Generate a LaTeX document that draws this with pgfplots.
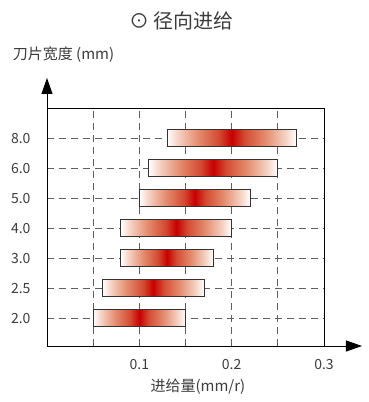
\documentclass[border=0pt]{standalone}
\usepackage{pgfplots}
\pgfplotsset{compat=1.18}
\usepackage{fontspec}
\setmainfont{Noto Sans CJK SC}
\usetikzlibrary{arrows.meta}
\definecolor{txt}{RGB}{60,60,60}
\definecolor{gridc}{RGB}{95,95,95}
\definecolor{barred}{RGB}{200,0,0}
\definecolor{sal1}{RGB}{246,212,198}
\definecolor{sal2}{RGB}{228,140,110}
\definecolor{sal3}{RGB}{212,75,50}
\pgfdeclarehorizontalshading{barshade}{100bp}{
  color(0bp)=(white); color(25bp)=(white);
  color(29bp)=(sal1); color(37bp)=(sal2); color(45bp)=(sal3);
  color(50bp)=(barred);
  color(55bp)=(sal3); color(63bp)=(sal2); color(71bp)=(sal1);
  color(75bp)=(white); color(100bp)=(white)}
\pgfplotsset{feedbar/.style={draw=black!80, line width=0.8pt, shading=barshade}}
\begin{document}
\begin{tikzpicture}
\begin{axis}[
  scale only axis,
  width=277pt, height=238pt,
  at={(0,0)},
  xmin=0, xmax=0.3,
  ymin=-0.93, ymax=7,
  xtick={0.05,0.1,0.15,0.2,0.25,0.3},
  xticklabels={,0.1,,0.2,,0.3},
  ytick={0,1,2,3,4,5,6},
  yticklabels={2.0,2.5,3.0,4.0,5.0,6.0,8.0},
  major tick length=0pt,
  grid=major,
  major grid style={gridc, line width=0.8pt, dash pattern=on 7pt off 5pt},
  axis line style={black, line width=0.9pt},
  tick label style={font=\fontsize{14}{16}\selectfont, text=txt},
  /pgf/number format/assume math mode=true,
  xticklabel style={yshift=-10pt},
  yticklabel style={xshift=-13pt},
  clip=false,
]
% bar for 2.0 mm : 0.05 - 0.15
\addplot[feedbar] coordinates {(0.05,-0.28) (0.15,-0.28) (0.15,0.28) (0.05,0.28)} -- cycle;
% 2.5 mm : 0.06 - 0.17
\addplot[feedbar] coordinates {(0.06,0.72) (0.17,0.72) (0.17,1.28) (0.06,1.28)} -- cycle;
% 3.0 mm : 0.08 - 0.18
\addplot[feedbar] coordinates {(0.08,1.72) (0.18,1.72) (0.18,2.28) (0.08,2.28)} -- cycle;
% 4.0 mm : 0.08 - 0.20
\addplot[feedbar] coordinates {(0.08,2.72) (0.20,2.72) (0.20,3.28) (0.08,3.28)} -- cycle;
% 5.0 mm : 0.10 - 0.22
\addplot[feedbar] coordinates {(0.10,3.72) (0.22,3.72) (0.22,4.28) (0.10,4.28)} -- cycle;
% 6.0 mm : 0.11 - 0.25
\addplot[feedbar] coordinates {(0.11,4.72) (0.25,4.72) (0.25,5.28) (0.11,5.28)} -- cycle;
% 8.0 mm : 0.13 - 0.27
\addplot[feedbar] coordinates {(0.13,5.72) (0.27,5.72) (0.27,6.28) (0.13,6.28)} -- cycle;
\draw[line width=0.9pt, -{Triangle[length=16pt,width=11pt]}] (rel axis cs:0,1) -- ++(0pt,30pt);
\draw[line width=0.9pt, -{Triangle[length=16pt,width=11pt]}] (rel axis cs:1,0) -- ++(38pt,0pt);
\node[text=txt, font=\fontsize{20}{23}\selectfont] at ([xshift=-4pt,yshift=87pt]rel axis cs:0.5,1) {⊙ 径向进给};
\node[text=txt, font=\fontsize{15}{18}\selectfont] at ([xshift=16.5pt,yshift=53pt]rel axis cs:0,1) {刀片宽度 (mm)};
\node[text=txt, font=\fontsize{15}{18}\selectfont] at ([yshift=-41pt]axis cs:0.1634,-0.93) {进给量(mm/r)};
\path (rel axis cs:0,0) ++(-47pt,-56pt) coordinate (bl);
\path (rel axis cs:0,1) ++(321pt,108pt) coordinate (tr);
\end{axis}
\pgfresetboundingbox
\path (bl) rectangle (tr);
\end{tikzpicture}
\end{document}
